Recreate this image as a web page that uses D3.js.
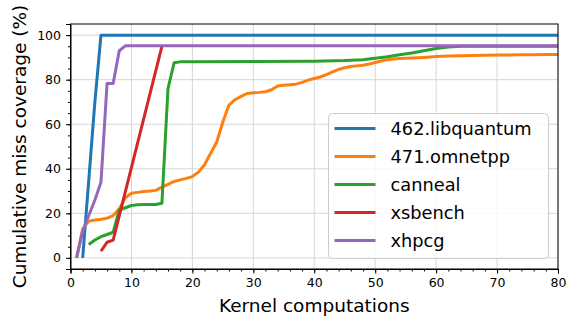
<!DOCTYPE html>
<html>
<head>
<meta charset="utf-8">
<script src="https://cdn.jsdelivr.net/npm/d3@7"></script>
<style>
  body { margin: 0; background: #fff; }
  svg { display: block; font-family: "DejaVu Sans", sans-serif; }
</style>
</head>
<body>
<div id="chart"></div>
<script>
// values: [kernel computations, coverage %]
var libquantum = [[2, 0], [3, 35], [4, 70], [5, 100], [80, 100]];
var omnetpp = [[1, 0], [2, 13], [3, 16.5], [4, 17], [5, 17.3], [6, 17.8], [7, 19], [8, 22], [9, 27], [10, 29],
    [11, 29.4], [12, 29.8], [13, 30], [14, 30.3], [15, 31.8], [16, 33], [17, 34.3], [18, 35], [19, 35.7], [20, 36.5],
    [21, 38.5], [22, 41.8], [23, 47], [24, 52], [25, 61], [26, 68.6], [27, 71], [28, 72.5], [29, 73.8], [30, 74.1],
    [31, 74.3], [32, 74.6], [33, 75.5], [34, 77.2], [35, 77.5], [36, 77.7], [37, 78], [38, 78.8], [39, 79.8], [40, 80.5],
    [41, 81.2], [42, 82.3], [43, 83.5], [44, 84.6], [45, 85.4], [46, 85.9], [47, 86.2], [48, 86.5], [49, 87], [50, 87.7],
    [51, 88.4], [52, 89], [53, 89.3], [54, 89.5], [56, 89.7], [58, 90], [60, 90.4], [62, 90.6], [64, 90.8], [66, 90.9],
    [68, 91], [70, 91.1], [72, 91.1], [74, 91.2], [76, 91.2], [78, 91.3], [80, 91.3]];
var canneal = [[3, 6], [4, 8], [5, 9.5], [6, 10.5], [7, 11.5], [8, 21.5], [9, 22.5], [10, 23.5], [11, 23.8], [12, 24],
    [13, 24], [14, 24], [15, 24.5], [16, 76], [17, 87.6], [18, 88], [20, 88.1], [30, 88.2], [40, 88.3], [45, 88.6],
    [48, 89], [50, 89.6], [52, 90.3], [54, 91.2], [56, 92], [58, 93], [60, 94], [62, 94.7], [64, 95], [80, 95]];
var xsbench = [[5, 3], [6, 7], [7, 8], [15, 95]];
var xhpcg = [[1, 0], [2, 12], [3, 19], [4, 26], [5, 34], [6, 78.3], [7, 78.3], [8, 93], [9, 95.2], [80, 95.2]];

var seriesNames = ["462.libquantum", "471.omnetpp", "canneal", "xsbench", "xhpcg"];
var seriesData = [libquantum, omnetpp, canneal, xsbench, xhpcg];
var colors = ["#1f77b4", "#ff7f0e", "#2ca02c", "#d62728", "#9467bd"];
var xTicks = [0, 10, 20, 30, 40, 50, 60, 70, 80];
var yTicks = [0, 20, 40, 60, 80, 100];

var width = 566, height = 321;
var margin = {top: 24, right: 8, bottom: 52, left: 70.5};

var svg = d3.select("#chart").append("svg")
    .attr("width", width).attr("height", height);

var x = d3.scaleLinear().domain([0, 80]).range([margin.left, width - margin.right]);
var y = d3.scaleLinear().domain([-5, 105]).range([height - margin.bottom, margin.top]);

// grid
var grid = svg.append("g").attr("class", "grid");
grid.selectAll("line.gx").data(xTicks).enter().append("line")
    .attr("x1", function (d) { return x(d); }).attr("x2", function (d) { return x(d); })
    .attr("y1", y(-5)).attr("y2", y(105))
    .style("stroke", "#d6d6d6").style("stroke-width", 1);
grid.selectAll("line.gy").data(yTicks).enter().append("line")
    .attr("y1", function (d) { return y(d); }).attr("y2", function (d) { return y(d); })
    .attr("x1", x(0)).attr("x2", x(80))
    .style("stroke", "#d6d6d6").style("stroke-width", 1);

// series
var line = d3.line()
    .x(function (d) { return x(d[0]); })
    .y(function (d) { return y(d[1]); });

svg.append("g").selectAll("path").data(seriesData).enter().append("path")
    .attr("d", line)
    .style("fill", "none")
    .style("stroke", function (d, i) { return colors[i]; })
    .style("stroke-width", 3)
    .style("stroke-linejoin", "round")
    .style("stroke-linecap", "butt");

// axes
var xAxis = svg.append("g").attr("transform", "translate(0," + y(-5) + ")")
    .call(d3.axisBottom(x).tickValues(xTicks).tickSize(4.5).tickPadding(5).tickFormat(d3.format("d")));
svg.append("g").attr("transform", "translate(0," + y(-5) + ")")
    .call(d3.axisBottom(x).tickValues(d3.range(0, 81, 2)).tickSize(2.5).tickFormat(""))
    .select(".domain").remove();
var yAxis = svg.append("g").attr("transform", "translate(" + x(0) + ",0)")
    .call(d3.axisLeft(y).tickValues(yTicks).tickSize(4.5).tickPadding(5).tickFormat(d3.format("d")));
svg.append("g").attr("transform", "translate(" + x(0) + ",0)")
    .call(d3.axisLeft(y).tickValues(d3.range(0, 101, 5)).tickSize(2.5).tickFormat(""))
    .select(".domain").remove();

svg.selectAll(".tick text").style("font-size", "12.5px").style("font-family", "DejaVu Sans").style("fill", "#000");
svg.selectAll(".tick line").style("stroke", "#000");

// frame
svg.append("rect")
    .attr("x", x(0)).attr("y", y(105))
    .attr("width", x(80) - x(0)).attr("height", y(-5) - y(105))
    .style("fill", "none").style("stroke", "#000").style("stroke-width", 1);

// axis labels
svg.append("text")
    .attr("x", (x(0) + x(80)) / 2).attr("y", 311.5)
    .attr("text-anchor", "middle")
    .style("font-size", "18.5px")
    .text("Kernel computations");
svg.append("text")
    .attr("transform", "translate(26," + (y(-5) + y(105)) / 2 + ") rotate(-90)")
    .attr("text-anchor", "middle")
    .style("font-size", "18.5px")
    .text("Cumulative miss coverage (%)");

// legend
var legend = svg.append("g").attr("transform", "translate(328.5,113.5)");
legend.append("rect")
    .attr("width", 220).attr("height", 145).attr("rx", 4)
    .style("fill", "rgba(255,255,255,0.8)")
    .style("stroke", "#cccccc").style("stroke-width", 1);
var items = legend.selectAll("g.item").data(seriesNames).enter().append("g")
    .attr("transform", function (d, i) { return "translate(0," + (15 + i * 28) + ")"; });
items.append("line")
    .attr("x1", 6).attr("x2", 47).attr("y1", 0).attr("y2", 0)
    .style("stroke", function (d, i) { return colors[i]; })
    .style("stroke-width", 3);
items.append("text")
    .attr("x", 62).attr("y", 6.4)
    .style("font-size", "17.8px")
    .text(function (d) { return d; });
</script>
</body>
</html>
